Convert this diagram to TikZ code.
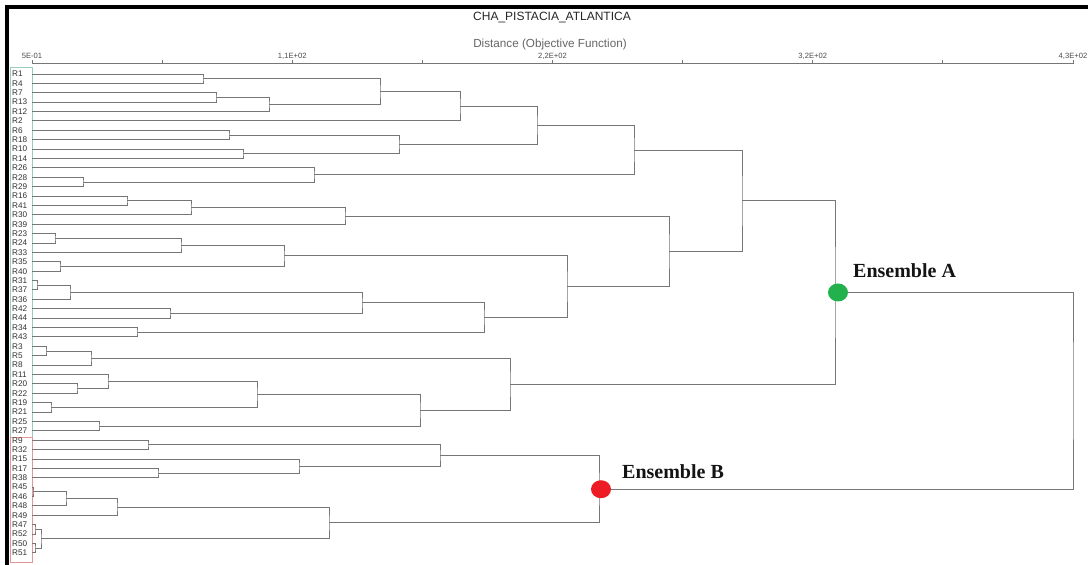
\documentclass[tikz,border=0pt]{standalone}
\usepackage{fontspec}
\setmainfont{Liberation Sans}
\newfontfamily\ensfont{Liberation Serif}
\usepackage{tikz}
\usetikzlibrary{calc, positioning, shapes.geometric}
\definecolor{branchgray}{RGB}{118,118,118}
\definecolor{boxA}{RGB}{150,205,190}
\definecolor{boxB}{RGB}{228,150,150}
\definecolor{dotgreen}{RGB}{34,177,76}
\definecolor{dotred}{RGB}{237,28,36}

% bracket joining two children at height x
\newcommand{\joinat}[4]{%
  \coordinate (#1-mid) at ($(#2)!0.5!(#3)$);
  \coordinate (#1) at (#4,0 |- #1-mid);
  \draw[branch] (#2) -| (#1) |- (#3);
}

\begin{document}
\begin{tikzpicture}[x=1pt, y=-1pt,
  branch/.style={draw=branchgray, line width=0.95pt},
  leaflab/.style={anchor=west, inner sep=0pt, text=black!80, font=\fontsize{8.2}{9}\selectfont},
  ticklab/.style={inner sep=0pt, text=black!70, font=\fontsize{7.6}{8}\selectfont},
  dot/.style={ellipse, minimum width=20pt, minimum height=18pt, inner sep=0pt},
  enslab/.style={anchor=west, inner sep=0pt, text=black!92, font=\ensfont\bfseries\fontsize{20}{22}\selectfont}]
  \useasboundingbox (0,0) rectangle (1088,565);
  \fill[white] (0,0) rectangle (1088,565);

  % frame
  \draw[line width=4pt] (6.5,565) -- (6.5,6.5) -- (1088,6.5);

  % title and axis
  \node[text=black!85, font=\fontsize{12}{14}\selectfont] (title) at (552,18) {CHA\_PISTACIA\_ATLANTICA};
  \node[text=black!60, font=\fontsize{11.7}{14}\selectfont] (subtitle) at (550,44) {Distance (Objective Function)};
  \draw[branchgray, line width=0.9pt] (32,63) -- (1073,63);
  \foreach \k in {0,...,8}
    \draw[branchgray, line width=0.9pt] ({32+130.125*\k},60) -- ({32+130.125*\k},64);
  \foreach \val [count=\k from 0] in {5E-01,{1,1E+02},{2,2E+02},{3,2E+02},{4,3E+02}}
    \node[ticklab] (tick\k) at ({32+260.25*\k},56) {\val};

  % group boxes
  \draw[boxA, line width=0.9pt] (10,67) rectangle (32,437);
  \draw[boxB, line width=0.9pt] (10,437) rectangle (32,562);

  % leaves
  \foreach \leaf [count=\i from 0] in {R1,R4,R7,R13,R12,R2,R6,R18,R10,R14,R26,R28,R29,
      R16,R41,R30,R39,R23,R24,R33,R35,R40,R31,R37,R36,R42,R44,R34,R43,
      R3,R5,R8,R11,R20,R22,R19,R21,R25,R27,
      R9,R32,R15,R17,R38,R45,R46,R48,R49,R47,R52,R50,R51}{
    \coordinate (\leaf) at (32,{74+9.39*\i});
    \node[leaflab] (lab-\leaf) at (12,{74+9.39*\i}) {\leaf};
  }

  % ensemble A
  \joinat{a1}{R1}{R4}{203}
  \joinat{a2}{R7}{R13}{216}
  \joinat{a3}{a2}{R12}{269}
  \joinat{a4}{a1}{a3}{380}
  \joinat{a5}{a4}{R2}{460}
  \joinat{a6}{R6}{R18}{229}
  \joinat{a7}{R10}{R14}{243}
  \joinat{a8}{a6}{a7}{399}
  \joinat{a9}{a5}{a8}{537}
  \joinat{a10}{R28}{R29}{83}
  \joinat{a11}{R26}{a10}{314}
  \joinat{a12}{a9}{a11}{634}
  \joinat{b1}{R16}{R41}{127}
  \joinat{b2}{b1}{R30}{191}
  \joinat{b3}{b2}{R39}{345}
  \joinat{b4}{R23}{R24}{55}
  \joinat{b5}{b4}{R33}{181}
  \joinat{b6}{R35}{R40}{60}
  \joinat{b7}{b5}{b6}{284}
  \joinat{b8}{R31}{R37}{37}
  \joinat{b9}{b8}{R36}{70}
  \joinat{b10}{R42}{R44}{170}
  \joinat{b11}{b9}{b10}{362}
  \joinat{b12}{R34}{R43}{137}
  \joinat{b13}{b11}{b12}{484}
  \joinat{b14}{b7}{b13}{567}
  \joinat{b15}{b3}{b14}{669}
  \joinat{c1}{a12}{b15}{742}
  \joinat{d1}{R3}{R5}{46}
  \joinat{d2}{d1}{R8}{91}
  \joinat{d3}{R20}{R22}{77}
  \joinat{d4}{R11}{d3}{108}
  \joinat{d5}{R19}{R21}{51}
  \joinat{d6}{d4}{d5}{257}
  \joinat{d7}{R25}{R27}{99}
  \joinat{d8}{d6}{d7}{420}
  \joinat{d9}{d2}{d8}{510}
  \joinat{ensA}{c1}{d9}{835}

  % ensemble B
  \joinat{e1}{R9}{R32}{148}
  \joinat{e2}{R17}{R38}{158}
  \joinat{e3}{R15}{e2}{299}
  \joinat{e4}{e1}{e3}{440}
  \joinat{e5}{R45}{R46}{33}
  \joinat{e6}{e5}{R48}{66}
  \joinat{e7}{e6}{R49}{117}
  \joinat{e8}{R47}{R52}{35}
  \joinat{e9}{R50}{R51}{35}
  \joinat{e10}{e8}{e9}{41}
  \joinat{e11}{e7}{e10}{329}
  \joinat{ensB}{e4}{e11}{599}

  % root
  \joinat{root}{ensA}{ensB}{1073}

  % markers
  \node[dot, fill=dotgreen] (dotA) at ([xshift=3pt]ensA) {};
  \node[dot, fill=dotred] (dotB) at ([xshift=2pt]ensB) {};
  \node[enslab] (labA) at (853,271) {Ensemble A};
  \node[enslab] (labB) at (622,472) {Ensemble B};
\end{tikzpicture}
\end{document}
